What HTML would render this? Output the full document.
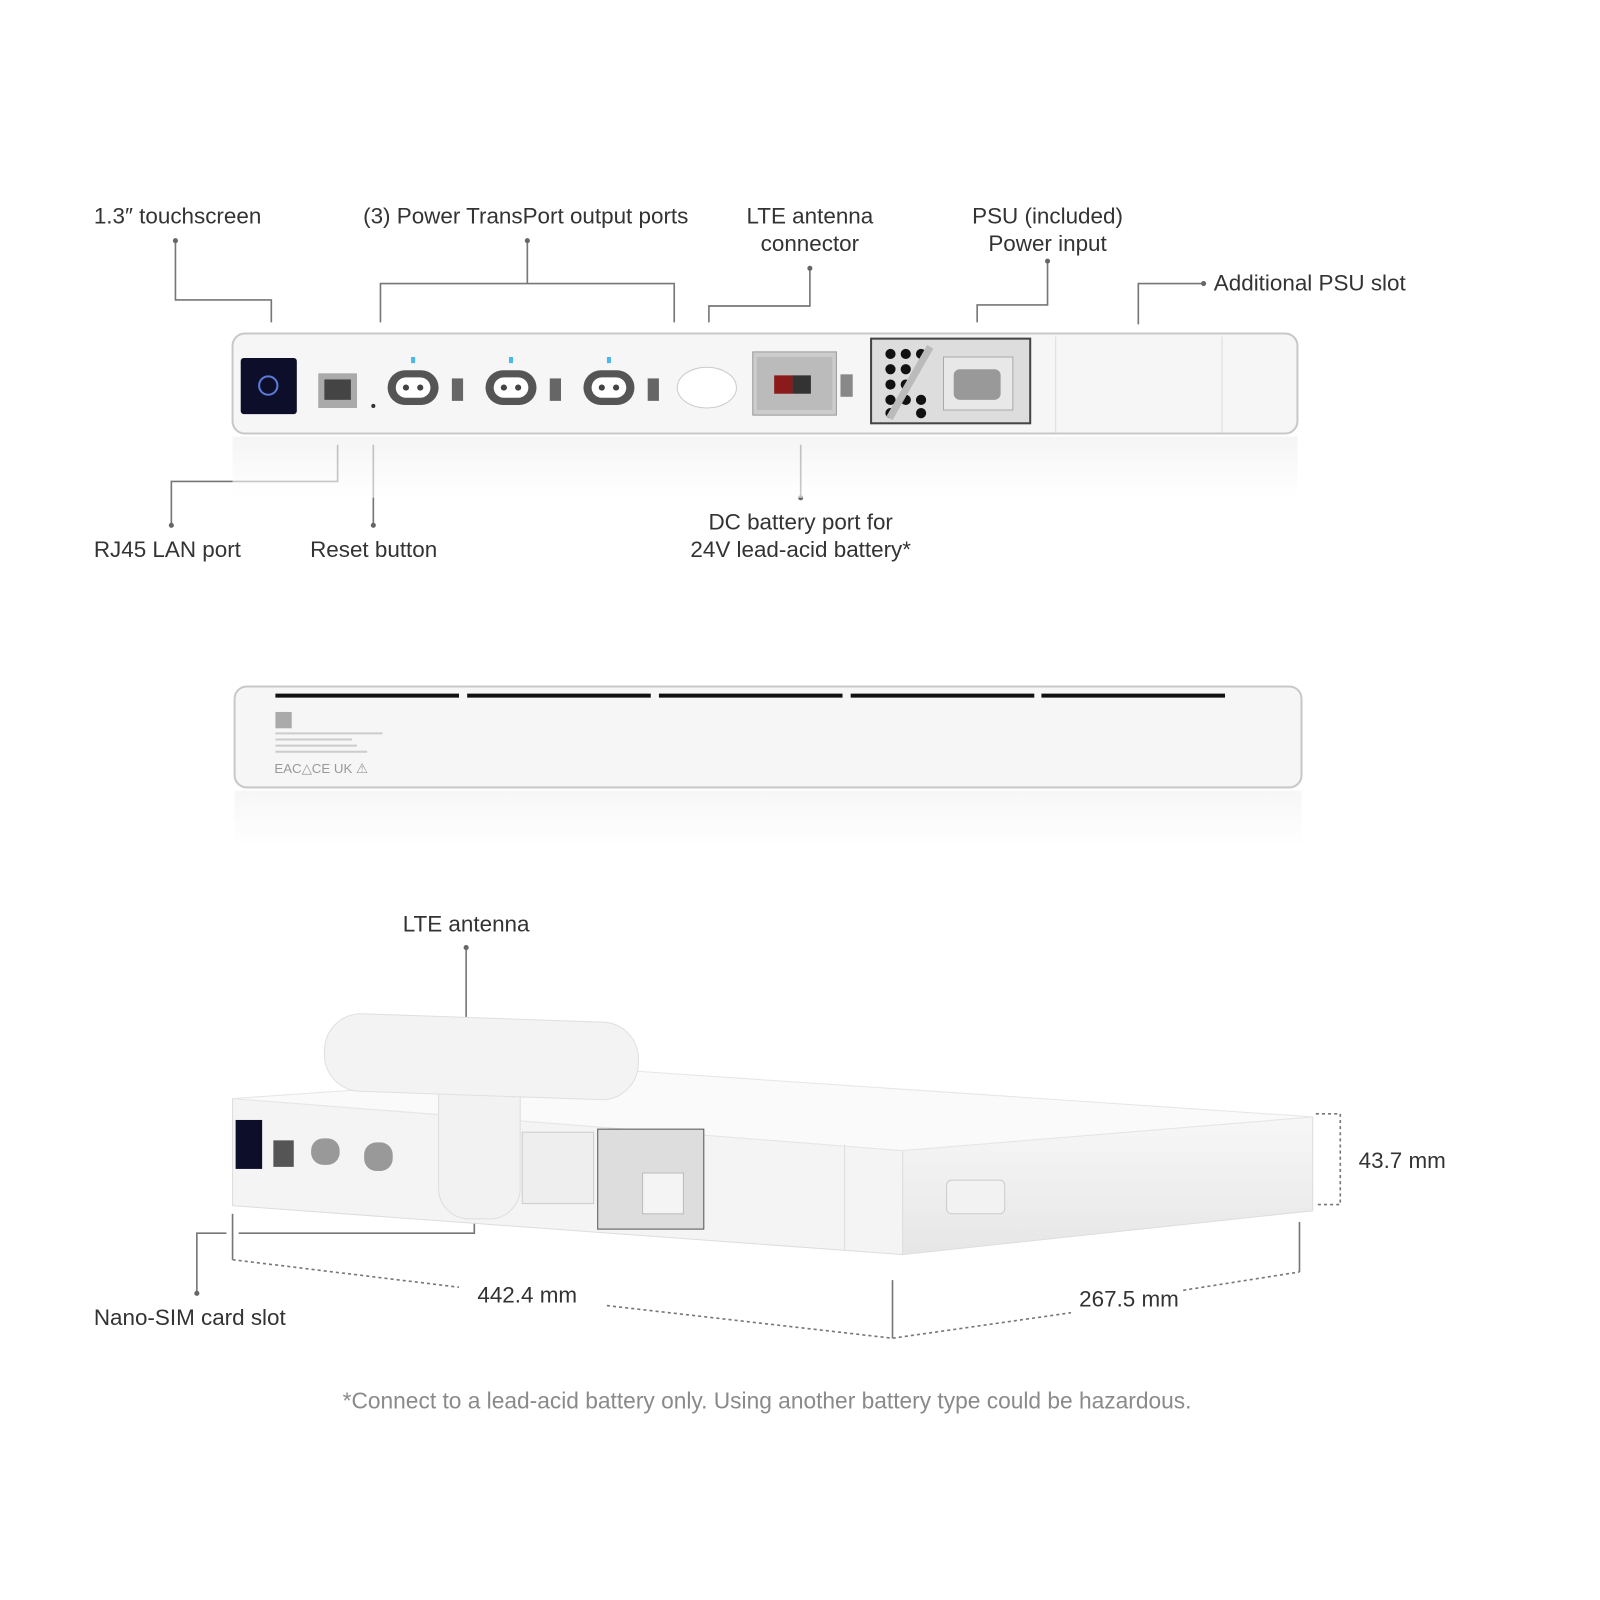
<!DOCTYPE html>
<html><head><meta charset="utf-8"><style>
html,body{margin:0;padding:0;background:#fff}
svg{display:block}
text{font-family:"Liberation Sans",sans-serif;fill:#333;font-size:22px}
</style></head><body>
<svg width="1600" height="1600" viewBox="0 0 1600 1600" xmlns="http://www.w3.org/2000/svg">
<defs>
<linearGradient id="ref" x1="0" y1="0" x2="0" y2="1"><stop offset="0" stop-color="#eee"/><stop offset="1" stop-color="#fff"/></linearGradient>
<linearGradient id="side" x1="0" y1="0" x2="0" y2="1"><stop offset="0" stop-color="#f7f7f7"/><stop offset="1" stop-color="#e6e6e6"/></linearGradient>
</defs>
<g transform="scale(1.02)">
<g stroke="#777" stroke-width="1.6" fill="none">
<polyline points="172,236 172,294 266,294 266,316"/>
<polyline points="517,236 517,278"/>
<polyline points="373,316 373,278 661,278 661,316"/>
<polyline points="794,263 794,300 695,300 695,316"/>
<polyline points="1027,256 1027,299 958,299 958,316"/>
<polyline points="1180,278 1116,278 1116,318"/>
<polyline points="331,436 331,472 168,472 168,515"/>
<polyline points="366,436 366,515"/>
<polyline points="785,436 785,488"/>
<polyline points="457,929 457,998"/>
<polyline points="465,1195 465,1209 234,1209"/>
<polyline points="222,1209 193,1209 193,1268"/>
<polyline points="228,1190 228,1235"/>
<polyline points="875,1255 875,1312"/>
<polyline points="1274,1198 1274,1247"/>
<g stroke-dasharray="3,3">
<polyline points="228,1235 450,1262"/>
<polyline points="595,1280 875,1312 1050,1287"/>
<polyline points="1160,1265 1274,1247"/>
<polyline points="1290,1092 1314,1092 1314,1181 1290,1181"/>
</g>
</g>
<g fill="#666">
<circle cx="172" cy="236" r="2.5"/><circle cx="517" cy="236" r="2.5"/><circle cx="794" cy="263" r="2.5"/><circle cx="1027" cy="256" r="2.5"/><circle cx="1180" cy="278" r="2.5"/><circle cx="168" cy="515" r="2.5"/><circle cx="366" cy="515" r="2.5"/><circle cx="785" cy="488" r="2.5"/><circle cx="457" cy="929" r="2.5"/><circle cx="193" cy="1268" r="2.5"/>
</g>
<text x="92" y="219">1.3″ touchscreen</text>
<text x="356" y="219">(3) Power TransPort output ports</text>
<text x="794" y="219" text-anchor="middle">LTE antenna</text>
<text x="794" y="246" text-anchor="middle">connector</text>
<text x="1027" y="219" text-anchor="middle">PSU (included)</text>
<text x="1027" y="246" text-anchor="middle">Power input</text>
<text x="1190" y="285">Additional PSU slot</text>
<text x="92" y="546">RJ45 LAN port</text>
<text x="304" y="546">Reset button</text>
<text x="785" y="519" text-anchor="middle">DC battery port for</text>
<text x="785" y="546" text-anchor="middle">24V lead-acid battery*</text>
<text x="457" y="913" text-anchor="middle">LTE antenna</text>
<text x="92" y="1299">Nano-SIM card slot</text>
<text x="468" y="1277">442.4 mm</text>
<text x="1058" y="1281">267.5 mm</text>
<text x="1332" y="1145">43.7 mm</text>
<text x="752" y="1381" text-anchor="middle" style="fill:#8a8a8a;font-size:22.3px">*Connect to a lead-acid battery only. Using another battery type could be hazardous.</text>

<!-- front panel -->
<rect x="228" y="428" width="1044" height="60" fill="url(#ref)" opacity="0.6"/>
<rect x="228" y="327" width="1044" height="98" rx="12" fill="#f6f6f6" stroke="#c8c8c8" stroke-width="2"/>
<rect x="236" y="351" width="55" height="55" rx="3" fill="#0d0f2a"/>
<circle cx="263" cy="378" r="9" fill="none" stroke="#5a7bd8" stroke-width="2"/>
<rect x="312" y="366" width="38" height="34" fill="#aaa"/><rect x="318" y="372" width="26" height="20" fill="#444"/>
<circle cx="366" cy="398" r="2" fill="#333"/>
<g fill="#555">
<rect x="380" y="363" width="50" height="34" rx="17"/><rect x="476" y="363" width="50" height="34" rx="17"/><rect x="572" y="363" width="50" height="34" rx="17"/>
</g>
<g fill="#fff"><rect x="388" y="370" width="34" height="20" rx="10"/><rect x="484" y="370" width="34" height="20" rx="10"/><rect x="580" y="370" width="34" height="20" rx="10"/></g>
<g fill="#444"><circle cx="398" cy="380" r="3"/><circle cx="412" cy="380" r="3"/><circle cx="494" cy="380" r="3"/><circle cx="508" cy="380" r="3"/><circle cx="590" cy="380" r="3"/><circle cx="604" cy="380" r="3"/></g>
<g fill="#666"><rect x="443" y="371" width="11" height="22"/><rect x="539" y="371" width="11" height="22"/><rect x="635" y="371" width="11" height="22"/></g>
<g fill="#4ab8ea"><rect x="403" y="350" width="4" height="6"/><rect x="499" y="350" width="4" height="6"/><rect x="595" y="350" width="4" height="6"/></g>
<ellipse cx="693" cy="380" rx="29" ry="20" fill="#fff" stroke="#ccc"/>
<rect x="738" y="345" width="82" height="62" fill="#ccc" stroke="#999"/><rect x="742" y="350" width="74" height="52" fill="#bbb"/>
<rect x="759" y="368" width="18" height="18" fill="#8b1a1a"/><rect x="777" y="368" width="18" height="18" fill="#333"/>
<rect x="824" y="367" width="12" height="22" fill="#888"/>
<rect x="854" y="332" width="156" height="83" fill="#ddd" stroke="#444" stroke-width="2"/>
<g fill="#111"><circle cx="873" cy="347" r="5"/><circle cx="888" cy="347" r="5"/><circle cx="903" cy="347" r="5"/><circle cx="873" cy="362" r="5"/><circle cx="888" cy="362" r="5"/><circle cx="873" cy="377" r="5"/><circle cx="888" cy="377" r="5"/><circle cx="873" cy="392" r="5"/><circle cx="888" cy="392" r="5"/><circle cx="903" cy="392" r="5"/><circle cx="873" cy="405" r="5"/><circle cx="903" cy="405" r="5"/></g>
<line x1="912" y1="340" x2="872" y2="410" stroke="#bbb" stroke-width="7"/>
<rect x="925" y="350" width="68" height="52" fill="#e8e8e8" stroke="#aaa"/><rect x="935" y="362" width="46" height="30" rx="6" fill="#999"/>
<line x1="1035" y1="330" x2="1035" y2="424" stroke="#ddd"/><line x1="1198" y1="330" x2="1198" y2="424" stroke="#ddd"/>

<!-- rear panel -->
<rect x="230" y="775" width="1046" height="55" fill="url(#ref)" opacity="0.5"/>
<rect x="230" y="673" width="1046" height="99" rx="12" fill="#f6f6f6" stroke="#c8c8c8" stroke-width="2"/>
<g stroke="#111" stroke-width="4"><line x1="270" y1="682" x2="450" y2="682"/><line x1="458" y1="682" x2="638" y2="682"/><line x1="646" y1="682" x2="826" y2="682"/><line x1="834" y1="682" x2="1014" y2="682"/><line x1="1021" y1="682" x2="1201" y2="682"/></g>
<rect x="270" y="698" width="16" height="16" fill="#aaa"/>
<g fill="#ccc"><rect x="270" y="718" width="105" height="2"/><rect x="270" y="724" width="75" height="2"/><rect x="270" y="730" width="80" height="2"/><rect x="270" y="736" width="90" height="2"/></g>
<text x="269" y="758" style="font-size:13px;fill:#999">EAC△CE UK ⚠</text>

<!-- bottom 3D device -->
<polygon points="228,1077 885,1128 885,1230 228,1182" fill="#f4f4f4" stroke="#ddd"/>
<polygon points="885,1128 1287,1095 1287,1187 885,1230" fill="url(#side)" stroke="#ddd"/>
<polygon points="228,1077 620,1050 1287,1095 885,1128" fill="#fafafa" stroke="#e6e6e6"/>
<rect x="928" y="1157" width="57" height="33" rx="5" fill="#f2f2f2" stroke="#ccc"/>
<rect x="231" y="1098" width="26" height="48" fill="#0d0f2a"/>
<rect x="268" y="1118" width="20" height="26" fill="#555"/>
<g fill="#999"><rect x="305" y="1116" width="28" height="26" rx="12"/><rect x="357" y="1120" width="28" height="28" rx="12"/></g>
<rect x="512" y="1110" width="70" height="70" fill="#eee" stroke="#ccc"/>
<rect x="586" y="1107" width="104" height="98" fill="#ddd" stroke="#555"/>
<rect x="630" y="1150" width="40" height="40" fill="#f4f4f4" stroke="#bbb"/>
<line x1="828" y1="1122" x2="828" y2="1226" stroke="#ddd"/>
<rect x="430" y="1030" width="80" height="165" rx="30" fill="#f2f2f2" stroke="#ddd"/>
<rect x="318" y="998" width="308" height="76" rx="36" fill="#f3f3f3" stroke="#e0e0e0" transform="rotate(2 472 1036)"/>
</g>
</svg>
</body></html>
